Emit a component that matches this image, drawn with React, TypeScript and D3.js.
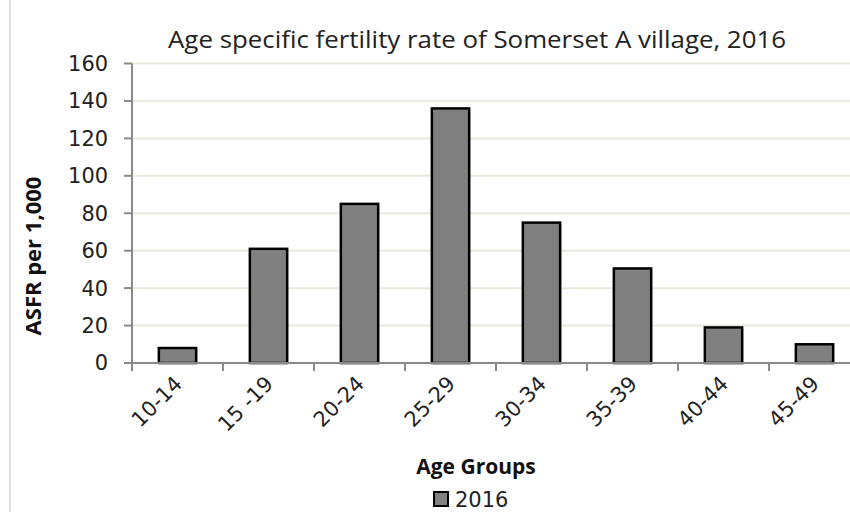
import React from "react";
import * as d3 from "d3";

const categories = ["10-14", "15 -19", "20-24", "25-29", "30-34", "35-39", "40-44", "45-49"];
const values = [8, 61, 85, 136, 75, 50.5, 19, 10];
const yTicks = [0, 20, 40, 60, 80, 100, 120, 140, 160];
const seriesName = "2016";
const title = "Age specific fertility rate of Somerset A village, 2016";
const xTitle = "Age Groups";
const yTitle = "ASFR per 1,000";

const W = 850;
const H = 512;
const FONT = "'Open Sans', 'DejaVu Sans', sans-serif";
const NUMFONT = "'DejaVu Sans', sans-serif";

export default function App() {
  const x = d3.scaleBand<string>().domain(categories).range([132, 132 + 8 * 91]).padding(0);
  const y = d3.scaleLinear().domain([0, 160]).range([363, 63.5]);
  const barW = x.bandwidth() * 0.41;
  const axisColor = "#898989";

  return (
    <svg width={W} height={H} style={{ position: "absolute", left: 0, top: 0, background: "#fff" }}>
      <line x1={10} x2={10} y1={0} y2={H} stroke="#d4d4d4" strokeWidth={1.5} />
      <text
        x={168}
        y={48}
        textLength={618}
        lengthAdjust="spacingAndGlyphs"
        fontFamily={FONT}
        fontSize={24.5}
        fill="#222"
      >
        {title}
      </text>
      {yTicks.map((t) => (
        <g key={t}>
          {t > 0 && (
            <line x1={132} x2={W} y1={y(t)} y2={y(t)} stroke="#ece8dc" strokeWidth={2} />
          )}
          <line x1={124} x2={132} y1={y(t)} y2={y(t)} stroke={axisColor} strokeWidth={2} />
          <text
            x={108}
            y={y(t)}
            dy="0.36em"
            textAnchor="end"
            fontFamily={NUMFONT}
            fontSize={20.5}
            fill="#222"
            textLength={String(t).length * 13.3}
            lengthAdjust="spacingAndGlyphs"
          >
            {t}
          </text>
        </g>
      ))}
      {categories.map((c, i) => {
        const cx = (x(c) as number) + x.bandwidth() / 2;
        return (
          <g key={c}>
            <rect
              x={cx - barW / 2 + 1.5}
              y={y(values[i]) + 1.5}
              width={barW}
              height={y(0) - y(values[i])}
              fill="#000"
              opacity={0.12}
            />
            <rect
              x={cx - barW / 2}
              y={y(values[i])}
              width={barW}
              height={y(0) - y(values[i])}
              fill="#808080"
              stroke="#000"
              strokeWidth={2.5}
            />
          </g>
        );
      })}
      <line x1={132} x2={132} y1={y(160)} y2={y(0)} stroke={axisColor} strokeWidth={2} />
      <line x1={132} x2={W} y1={y(0)} y2={y(0)} stroke={axisColor} strokeWidth={2} />
      {categories.map((c) => (
        <line key={"t" + c} x1={x(c) as number} x2={x(c) as number} y1={y(0)} y2={y(0) + 8} stroke={axisColor} strokeWidth={2} />
      ))}
      {categories.map((c) => {
        const cx = (x(c) as number) + x.bandwidth() / 2;
        return (
          <text
            key={"l" + c}
            transform={`translate(${cx + 6},${y(0) + 22}) rotate(-45)`}
            textAnchor="end"
            fontFamily={NUMFONT}
            fontSize={21}
            fill="#222"
          >
            {c}
          </text>
        );
      })}
      <text x={476} y={474} textAnchor="middle" fontFamily={FONT} fontSize={21} fontWeight="bold" fill="#111">
        {xTitle}
      </text>
      <text
        transform={`translate(41,256) rotate(-90)`}
        textAnchor="middle"
        fontFamily={FONT}
        fontSize={22}
        fontWeight="bold"
        fill="#111"
      >
        {yTitle}
      </text>
      <rect x={434} y={492} width={14} height={14} fill="#808080" stroke="#000" strokeWidth={2} />
      <text x={455} y={507} fontFamily={NUMFONT} fontSize={21} fill="#222">
        {seriesName}
      </text>
    </svg>
  );
}
